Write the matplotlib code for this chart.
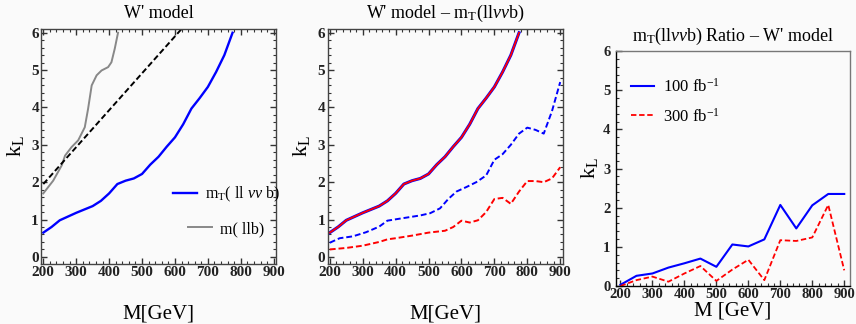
import matplotlib
matplotlib.use('Agg')
import matplotlib.pyplot as plt
from matplotlib.ticker import MultipleLocator

plt.rcParams['font.family'] = ['Liberation Serif', 'DejaVu Serif']
plt.rcParams['mathtext.fontset'] = 'custom'
plt.rcParams['mathtext.rm'] = 'Liberation Serif'
plt.rcParams['mathtext.it'] = 'Liberation Serif:italic'
plt.rcParams['mathtext.bf'] = 'Liberation Serif:bold'

# panel 1: W' model limits
m_mt = [200, 225, 250, 275, 300, 325, 350, 375, 400, 425, 450, 475,
        500, 525, 550, 575, 600, 625, 650, 675, 700, 725, 750, 775]
k_mt = [0.65, 0.80, 0.98, 1.08, 1.18, 1.27, 1.36, 1.50, 1.70, 1.95, 2.04, 2.10,
        2.22, 2.47, 2.68, 2.95, 3.20, 3.55, 3.97, 4.25, 4.55, 4.95, 5.40, 6.00]

m_llb = [200, 230, 256, 266, 286, 306, 326, 336, 347, 362, 377, 397, 407, 417, 427]
k_llb = [1.70, 2.04, 2.45, 2.71, 2.94, 3.12, 3.47, 3.96, 4.59, 4.86, 4.99, 5.08, 5.21, 5.57, 6.00]

m_ref = [200, 625]
k_ref = [1.95, 6.15]

# panel 2: dashed curves
m_dash_blue = [200, 230, 270, 310, 350, 375, 410, 475, 505, 535, 560, 585,
               615, 645, 675, 700, 725, 750, 775, 800, 825, 850, 875, 900]
k_dash_blue = [0.38, 0.50, 0.55, 0.66, 0.81, 0.97, 1.02, 1.11, 1.17, 1.30, 1.55, 1.75,
               1.87, 2.00, 2.18, 2.60, 2.75, 3.00, 3.30, 3.46, 3.40, 3.30, 3.90, 4.68]

m_dash_red = [200, 250, 300, 350, 375, 400, 450, 500, 550, 575, 600, 625,
              650, 675, 700, 725, 750, 775, 800, 825, 850, 875, 900]
k_dash_red = [0.20, 0.24, 0.30, 0.40, 0.47, 0.50, 0.57, 0.65, 0.70, 0.80, 0.97, 0.92,
              0.98, 1.20, 1.55, 1.58, 1.42, 1.75, 2.03, 2.03, 2.00, 2.10, 2.40]

# panel 3: ratio
m_ratio = [200, 250, 300, 350, 400, 450, 500, 550, 600, 650, 700, 750, 800, 850, 900]
ratio_100 = [0.03, 0.26, 0.32, 0.47, 0.58, 0.70, 0.49, 1.06, 1.01, 1.19, 2.07, 1.47, 2.06, 2.35, 2.35]
ratio_300 = [0.00, 0.15, 0.24, 0.11, 0.32, 0.51, 0.13, 0.42, 0.67, 0.15, 1.17, 1.15, 1.24, 2.07, 0.40]

mt_label = r'm$_\mathregular{T}$( ll $\nu\nu$ b)'
bg = '#fafafa'

fig = plt.figure(figsize=(8.56, 3.24), dpi=100, facecolor=bg)
ax1 = fig.add_axes([41 / 856, 60 / 324, 235 / 856, 235 / 324], facecolor=bg)
ax2 = fig.add_axes([327.5 / 856, 60 / 324, 235 / 856, 235 / 324], facecolor=bg)
ax3 = fig.add_axes([616 / 856, 38 / 324, 234 / 856, 235 / 324], facecolor=bg)


def style(ax, full_frame=True, size=11):
    ax.xaxis.set_major_locator(MultipleLocator(100))
    ax.xaxis.set_minor_locator(MultipleLocator(20))
    ax.yaxis.set_major_locator(MultipleLocator(1))
    ax.yaxis.set_minor_locator(MultipleLocator(0.2))
    ax.tick_params(which='both', direction='in', top=full_frame, right=full_frame,
                   labelsize=size, pad=1.5, color='#333333')
    ax.tick_params(which='major', length=4, width=1.0)
    ax.tick_params(which='minor', length=2, width=0.8)
    for lab in ax.get_xticklabels() + ax.get_yticklabels():
        lab.set_fontweight('bold')
        lab.set_color('#222222')
    for side in ax.spines.values():
        side.set_color('#444444')
        side.set_linewidth(1.0)


# panel 1
ln_mt, = ax1.plot(m_mt, k_mt, color='#0000ff', lw=1.7)
ln_llb, = ax1.plot(m_llb, k_llb, color='#888888', lw=1.4)
ax1.plot(m_ref, k_ref, color='black', lw=1.4, ls=(0, (3, 1.5)))
ax1.set_xlim(193, 907)
ax1.set_ylim(-0.19, 6.1)
style(ax1)
ax1.set_title("W' model", fontsize=13, pad=8)
ax1.set_xlabel('M[GeV]', fontsize=15, labelpad=18)
ax1.set_ylabel(r'k$_\mathregular{L}$', fontsize=16, labelpad=4)
leg1 = ax1.legend([ln_mt], [mt_label], loc='center left', bbox_to_anchor=(0.56, 0.295),
                  frameon=False, fontsize=11.5, handlelength=1.5, handletextpad=0.5,
                  borderpad=0, borderaxespad=0)
ax1.add_artist(leg1)
ax1.legend([ln_llb], ['m( llb)'], loc='center left', bbox_to_anchor=(0.625, 0.149),
           frameon=False, fontsize=11.5, handlelength=1.5, handletextpad=0.5,
           borderpad=0, borderaxespad=0)

# panel 2
ax2.plot(m_mt, k_mt, color='#0000ff', lw=2.2)
ax2.plot(m_mt, k_mt, color='#ff0000', lw=1.3)
ax2.plot(m_dash_blue, k_dash_blue, color='#0000ff', lw=1.4, ls=(0, (3, 1.5)))
ax2.plot(m_dash_red, k_dash_red, color='#ff0000', lw=1.4, ls=(0, (3, 1.5)))
ax2.set_xlim(193, 907)
ax2.set_ylim(-0.19, 6.1)
style(ax2)
ax2.set_title(r"W' model – m$_\mathregular{T}$(ll$\nu\nu$b)", fontsize=13, pad=8)
ax2.set_xlabel('M[GeV]', fontsize=15, labelpad=18)
ax2.set_ylabel(r'k$_\mathregular{L}$', fontsize=16, labelpad=4)

# panel 3
r100, = ax3.plot(m_ratio, ratio_100, color='#0000ff', lw=1.5)
r300, = ax3.plot(m_ratio, ratio_300, color='#ff0000', lw=1.3, ls=(0, (3, 1.5)))
ax3.set_xlim(186, 918)
ax3.set_ylim(0, 6)
style(ax3, full_frame=False, size=10.5)
ax3.tick_params(axis='y', pad=4)
ax3.spines['top'].set_color('#777777')
ax3.spines['right'].set_color('#777777')
ax3.spines['left'].set_color('black')
ax3.spines['bottom'].set_color('black')
ax3.set_title(r"m$_\mathregular{T}$(ll$\nu\nu$b) Ratio – W' model", fontsize=13, pad=7)
ax3.set_xlabel('M [GeV]', fontsize=15, labelpad=0)
ax3.set_ylabel(r'k$_\mathregular{L}$', fontsize=16, labelpad=2)
ax3.legend([r100, r300], [r'100 fb$^{-1}$', r'300 fb$^{-1}$'], loc='upper left',
           bbox_to_anchor=(0.0, 0.95), frameon=False, fontsize=12, handlelength=1.4,
           handletextpad=0.5, labelspacing=0.7)

fig.savefig('out.png', dpi=100, facecolor=bg)
